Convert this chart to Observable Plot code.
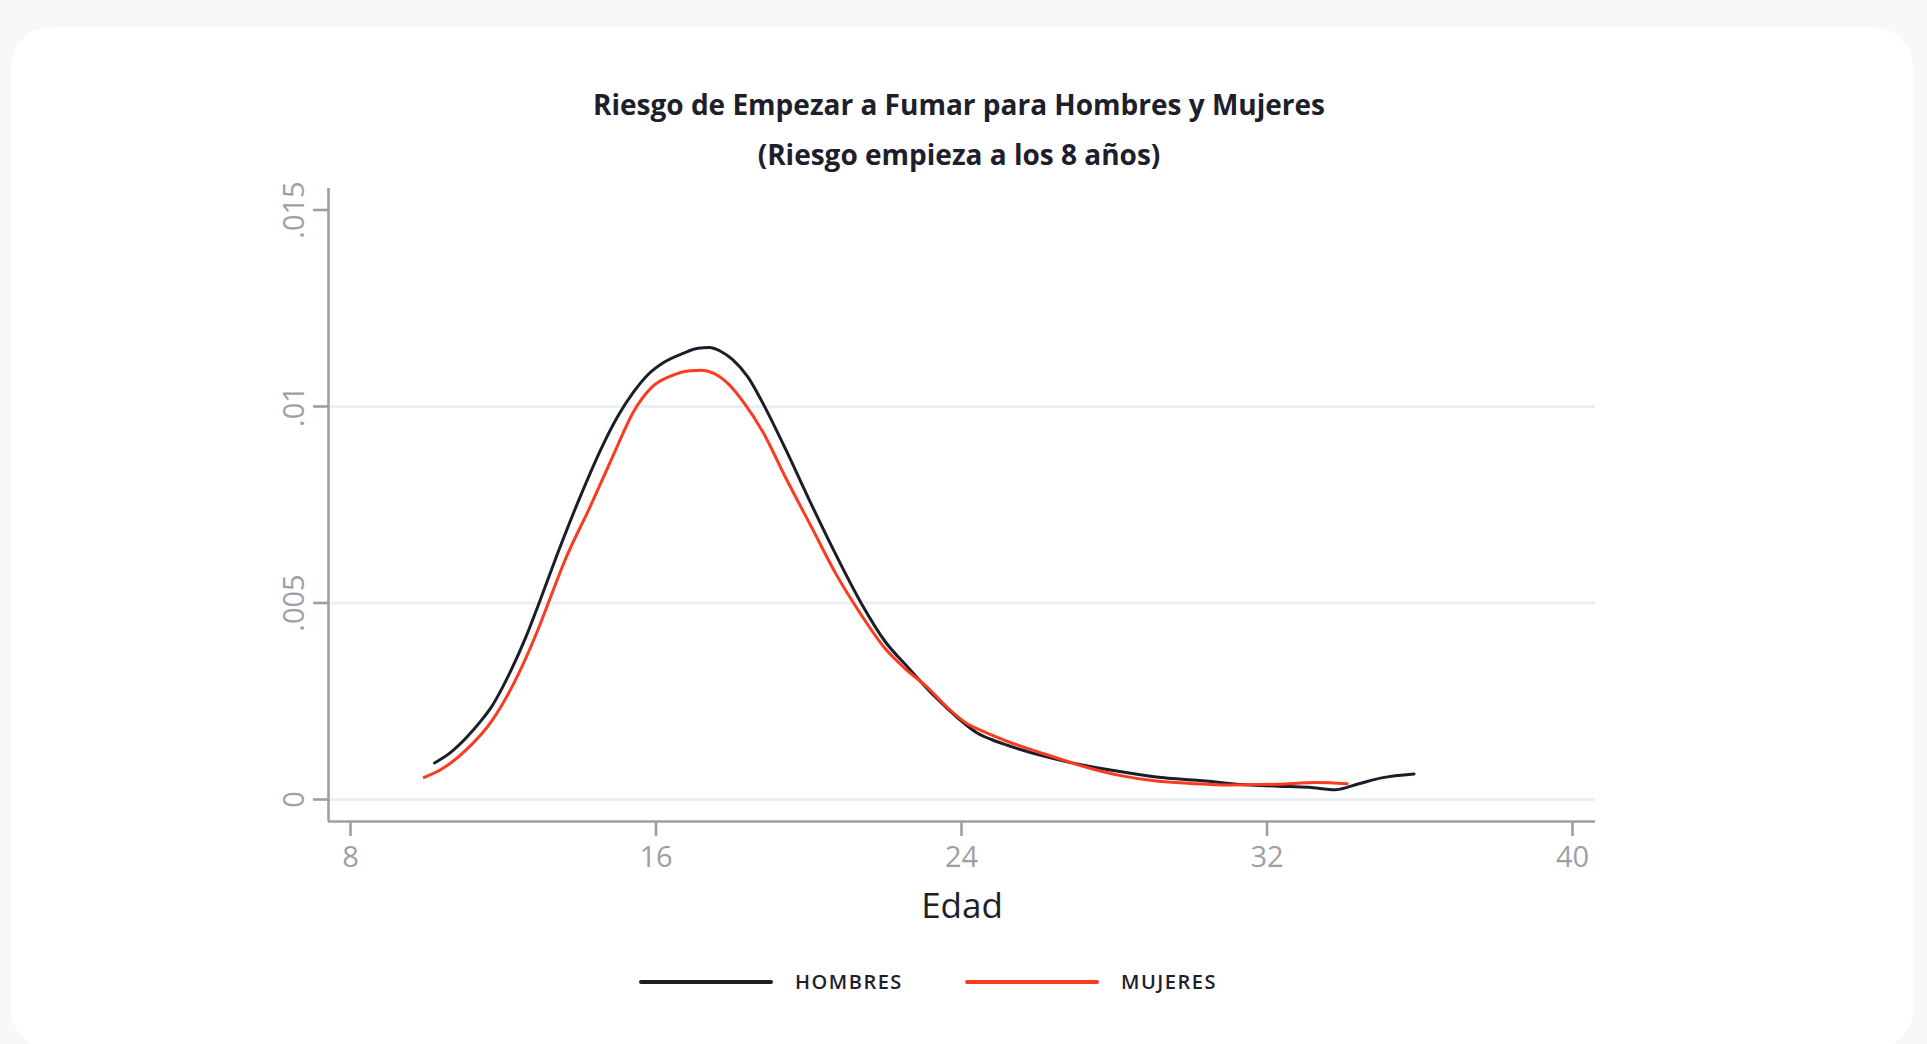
<!DOCTYPE html>
<html>
<head>
<meta charset="utf-8">
<script src="https://cdn.jsdelivr.net/npm/d3@7"></script>
<script src="https://cdn.jsdelivr.net/npm/@observablehq/plot@0.6"></script>
<style>
  html, body { margin: 0; padding: 0; }
  body { width: 1927px; height: 1044px; background: #f8f8f9; position: relative; overflow: hidden; font-family: "Open Sans", sans-serif; }
  #card { position: absolute; left: 11px; top: 27px; width: 1902px; height: 1022px; background: #ffffff; border-radius: 40px; }
  #title { position: absolute; left: 0; top: 79px; width: 1918px; text-align: center; color: #1d202b; font-weight: 700; font-size: 28px; line-height: 50px; }
  #chart { position: absolute; left: 0; top: 180px; }
  #legend { position: absolute; left: 0; top: 960px; width: 1927px; height: 44px; }
  .swatch { position: absolute; height: 4px; border-radius: 2px; top: 20px; }
  .lab { position: absolute; top: 8px; font-size: 20px; letter-spacing: 1.5px; color: #1d202b; font-weight: 600; line-height: 28px; }
</style>
</head>
<body>
<div id="card"></div>
<div id="title"></div>
<div id="chart"></div>
<div id="legend"></div>
<script>
// ---- data ----
const titleLines = ["Riesgo de Empezar a Fumar para Hombres y Mujeres", "(Riesgo empieza a los 8 años)"];
const xLabel = "Edad";
const seriesNames = ["HOMBRES", "MUJERES"];
const seriesColors = ["#1b1e29", "#fb3a20"];
const xTicks = [8, 16, 24, 32, 40];
const yTicks = [0, 0.005, 0.01, 0.015];
const yTickLabels = ["0", ".005", ".01", ".015"];
const gridValues = [0, 0.005, 0.01];

const hombresEdad = [10.2, 10.6, 11.05, 11.4, 11.7, 12.2, 12.6, 12.9, 13.4, 14.0, 14.6, 15.0, 15.4, 15.8, 16.2, 16.7, 17.1, 17.4, 17.7, 18.0, 18.4, 18.8, 19.4, 20.0, 20.7, 21.4, 22.0, 22.6, 23.3, 23.9, 24.4, 24.8, 25.2, 26.2, 27.2, 28.1, 29.1, 30.4, 31.3, 32.3, 33.1, 33.8, 34.4, 35.0, 35.85];
const hombresRiesgo = [0.00093, 0.00118, 0.00159, 0.00198, 0.00237, 0.00328, 0.00415, 0.00490, 0.00620, 0.00767, 0.00900, 0.00975, 0.01035, 0.01082, 0.01112, 0.01135, 0.01148, 0.01150, 0.01140, 0.01120, 0.01076, 0.01008, 0.00890, 0.00765, 0.00625, 0.00495, 0.00402, 0.00336, 0.00262, 0.00208, 0.00170, 0.00152, 0.00138, 0.00109, 0.00087, 0.00072, 0.00057, 0.00047, 0.00038, 0.00034, 0.00031, 0.00025, 0.00040, 0.00055, 0.00065];
const mujeresEdad = [9.93, 10.4, 11.05, 11.7, 12.3, 12.9, 13.2, 13.6, 14.3, 14.9, 15.4, 15.9, 16.4, 16.9, 17.2, 17.5, 17.9, 18.3, 18.8, 19.4, 20.1, 20.7, 21.4, 22.0, 22.5, 23.1, 23.6, 24.1, 24.6, 25.2, 26.2, 27.2, 28.1, 29.1, 30.0, 31.0, 32.3, 33.3, 34.1];
const mujeresRiesgo = [0.00056, 0.00078, 0.00128, 0.00200, 0.00300, 0.00430, 0.00505, 0.00605, 0.00750, 0.00880, 0.00985, 0.01050, 0.01078, 0.01091, 0.01092, 0.01085, 0.01057, 0.01010, 0.00935, 0.00818, 0.00688, 0.00576, 0.00466, 0.00384, 0.00335, 0.00286, 0.00237, 0.00196, 0.00172, 0.00148, 0.00115, 0.00084, 0.00062, 0.00047, 0.00041, 0.00037, 0.00039, 0.00043, 0.00040];

// ---- build table ----
const rows = [
  ...hombresEdad.map((e, i) => ({edad: e, riesgo: hombresRiesgo[i], sexo: seriesNames[0]})),
  ...mujeresEdad.map((e, i) => ({edad: e, riesgo: mujeresRiesgo[i], sexo: seriesNames[1]}))
];

document.getElementById("title").innerHTML = titleLines.map(t => `<div>${t}</div>`).join("");

const xDomain = [7.424, 40.602];
const yDomain = [-0.00056, 0.015547];
const axisColor = "#9d9fa6";

const chart = Plot.plot({
  width: 1927,
  height: 760,
  marginLeft: 328,
  marginRight: 332,
  marginTop: 8,
  marginBottom: 119,
  style: { background: "transparent", fontFamily: "Open Sans, sans-serif", overflow: "visible" },
  x: { domain: xDomain },
  y: { domain: yDomain },
  color: { domain: seriesNames, range: seriesColors },
  marks: [
    Plot.gridY(gridValues, { stroke: "#e8f0f1", strokeOpacity: 1, strokeWidth: 3 }),
    Plot.ruleX([xDomain[0]], { stroke: axisColor, strokeWidth: 2.6 }),
    Plot.ruleY([yDomain[0]], { stroke: axisColor, strokeWidth: 2.6 }),
    Plot.axisX(xTicks, { tickSize: 15, tickPadding: 10, stroke: axisColor, strokeWidth: 2.6, fill: "#9d9fa6", fontSize: 29, label: null }),
    Plot.axisY(yTicks, { tickSize: 15, tickPadding: 10, stroke: axisColor, strokeWidth: 2.6, fill: "#9d9fa6", fontSize: 29, tickRotate: -90, tickFormat: (d) => yTickLabels[yTicks.indexOf(d)], label: null }),
    Plot.text([xLabel], { frameAnchor: "bottom", dy: 96, fontSize: 35, fill: "#1d202b", text: d => d }),
    Plot.line(rows, { x: "edad", y: "riesgo", z: "sexo", stroke: "sexo", strokeWidth: 3, curve: "monotone-x" })
  ]
});
document.getElementById("chart").appendChild(chart);

// legend
const legend = document.getElementById("legend");
const legendPos = [{line: 639, text: 795}, {line: 965, text: 1121}];
seriesNames.forEach((n, i) => {
  const sw = document.createElement("div");
  sw.className = "swatch";
  sw.style.left = legendPos[i].line + "px";
  sw.style.width = "134px";
  sw.style.background = seriesColors[i];
  legend.appendChild(sw);
  const lb = document.createElement("div");
  lb.className = "lab";
  lb.style.left = legendPos[i].text + "px";
  lb.textContent = n;
  legend.appendChild(lb);
});
</script>
</body>
</html>
